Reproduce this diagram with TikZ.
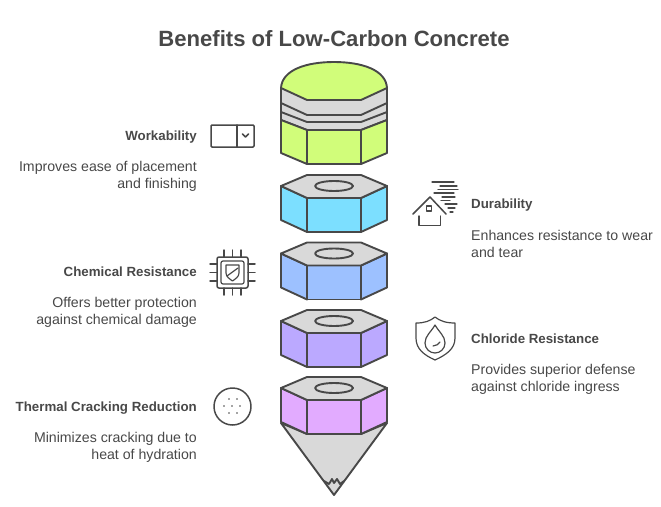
\documentclass[tikz,border=0pt]{standalone}
\usepackage{fontspec}
\setmainfont{Liberation Sans}
\definecolor{ink}{HTML}{484848}
\definecolor{cap}{HTML}{D9D9D9}
\definecolor{cgreen}{HTML}{D1FD7A}
\definecolor{ccyan}{HTML}{7CDFFF}
\definecolor{cblue}{HTML}{9DC1FF}
\definecolor{cviolet}{HTML}{BBA9FF}
\definecolor{cpink}{HTML}{E2ABFF}
\definecolor{txt}{HTML}{484848}
\tikzset{
  part/.style={draw=ink,line width=1.9pt,line join=round},
  iconline/.style={draw=ink,line width=1.5pt,line cap=round,line join=round},
  thinicon/.style={draw=ink,line width=1.2pt,line cap=round,line join=round},
  heading/.style={font=\bfseries\fontsize{13.3}{15}\selectfont,text=txt,inner sep=0pt},
  leftbody/.style={font=\fontsize{14.15}{17}\selectfont,text=txt,align=right,anchor=east,inner sep=0pt},
  rightbody/.style={font=\fontsize{14.15}{17}\selectfont,text=txt,align=left,anchor=west,inner sep=0pt},
  pics/nut/.style={code={
    \draw[part,fill=#1] (-53,11) -- (-27,23) -- (-27,57) -- (-53,45) -- cycle;
    \draw[part,fill=#1] (-27,23) -- (27,23) -- (27,57) -- (-27,57) -- cycle;
    \draw[part,fill=#1] (27,23) -- (53,11) -- (53,45) -- (27,57) -- cycle;
    \draw[part,fill=cap] (-27,0) -- (27,0) -- (53,11) -- (27,23) -- (-27,23) -- (-53,11) -- cycle;
    \draw[part,fill=cap] (0,11) ellipse [x radius=19,y radius=5];
  }}
}
\begin{document}
\begin{tikzpicture}[x=1pt,y=-1pt]
\useasboundingbox (0,0) rectangle (661,506);
\node[font=\bfseries\fontsize{22.1}{27}\selectfont,text=txt,inner sep=0pt] (title) at (334,38.5) {Benefits of Low-Carbon Concrete};
% top cap
\draw[part,fill=cap] (281,88) -- (281,120) -- (307,130) -- (361,130) -- (387,120) -- (387,88) -- cycle;
\draw[part] (281,103) -- (307,115) -- (361,115) -- (387,103);
\draw[part] (281,112) -- (307,122) -- (361,122) -- (387,112);
\draw[part,fill=cgreen] (281,88) .. controls (282,70) and (306,62) .. (334,62) .. controls (362,62) and (386,70) .. (387,88) -- (361,100) -- (307,100) -- cycle;
\draw[part,fill=cgreen] (281,120) -- (307,130) -- (307,164) -- (281,153) -- cycle;
\draw[part,fill=cgreen] (307,130) -- (361,130) -- (361,164) -- (307,164) -- cycle;
\draw[part,fill=cgreen] (361,130) -- (387,120) -- (387,153) -- (361,164) -- cycle;
% cone
\draw[part,fill=cap] (281,423) -- (307,434) -- (361,434) -- (387,423) -- (334,495) -- cycle;
\draw[part] (324,481) -- (329,484) -- (332,479) -- (334,483) -- (337,479) -- (340,484) -- (344,481);
% nuts
\path (334,175) pic {nut=ccyan};
\path (334,242.5) pic {nut=cblue};
\path (334,310) pic {nut=cviolet};
\path (334,377) pic {nut=cpink};
% labels left
\node[heading,anchor=base east] (wh) at (197,140) {Workability};
\node[leftbody] (wb) at (197,176.5) {Improves ease of placement\\and finishing};
\node[heading,anchor=base east] (ch) at (197,276) {Chemical Resistance};
\node[leftbody] (cb) at (197,312) {Offers better protection\\against chemical damage};
\node[heading,anchor=base east] (th) at (197,411) {Thermal Cracking Reduction};
\node[leftbody] (tb) at (197,447) {Minimizes cracking due to\\heat of hydration};
% labels right
\node[heading,anchor=base west] (dh) at (471,208) {Durability};
\node[rightbody] (db) at (471,244) {Enhances resistance to wear\\and tear};
\node[heading,anchor=base west] (clh) at (471,343) {Chloride Resistance};
\node[rightbody] (clb) at (471,379.5) {Provides superior defense\\against chloride ingress};
% icon: dropdown
\draw[iconline,rounded corners=1pt] (211,125) rectangle (254,147);
\draw[iconline] (237,125) -- (237,147);
\draw[iconline] (242.5,134) -- (245.5,137) -- (248.5,134);
% icon: house & wind
\draw[iconline] (413,214) -- (430,197) -- (446,214);
\draw[iconline] (419,216) -- (419,225.5) -- (440.5,225.5) -- (440.5,216);
\draw[iconline] (426.5,206) rectangle (431.5,211);
\foreach \xa/\xb/\yy in {432/454/182,440/457/186,438/458/189.5,434/454/193,442/455/197,441/450/200.5,445/457/204,448/455/208,450/453/212}{
  \draw[thinicon] (\xa,\yy) -- (\xb,\yy);
}
% icon: chip
\draw[iconline,rounded corners=2pt] (217,257) rectangle (248,288);
\draw[thinicon,rounded corners=2pt] (221,261) rectangle (244,284);
\draw[thinicon] (226,265) -- (239,265) -- (239,273) .. controls (239,277) and (235,279) .. (232.5,281) .. controls (230,279) and (226,277) .. (226,273) -- cycle;
\draw[thinicon] (227,276) -- (238,268);
\foreach \p in {224,232.5,241}{
  \draw[iconline] (\p,250) -- (\p,257);
  \draw[iconline] (\p,288) -- (\p,295);
}
\foreach \p in {264,272.5,281}{
  \draw[iconline] (210,\p) -- (217,\p);
  \draw[iconline] (248,\p) -- (255,\p);
}
% icon: shield drop
\draw[thinicon] (416,323) .. controls (425,323) and (430,321) .. (435,317) .. controls (440,321) and (446,323) .. (455,323) -- (455,338) .. controls (455,349) and (446,355) .. (435,360) .. controls (424,355) and (416,349) .. (416,338) -- cycle;
\draw[thinicon] (435,325) .. controls (431,332) and (425,336) .. (425,343) .. controls (425,349) and (430,353) .. (435,353) .. controls (440,353) and (445,349) .. (445,343) .. controls (445,336) and (439,332) .. (435,325) -- cycle;
\draw[thinicon] (433,346) .. controls (436,346) and (439,344) .. (440,342);
% icon: circle dots
\draw[iconline] (232.5,406.5) circle (18.5);
\foreach \dx/\dy in {229/399,237/399,224/406,232/406,240/406,229/413,237/413}{
  \fill[ink] (\dx,\dy) circle (0.9);
}
\end{tikzpicture}
\end{document}
